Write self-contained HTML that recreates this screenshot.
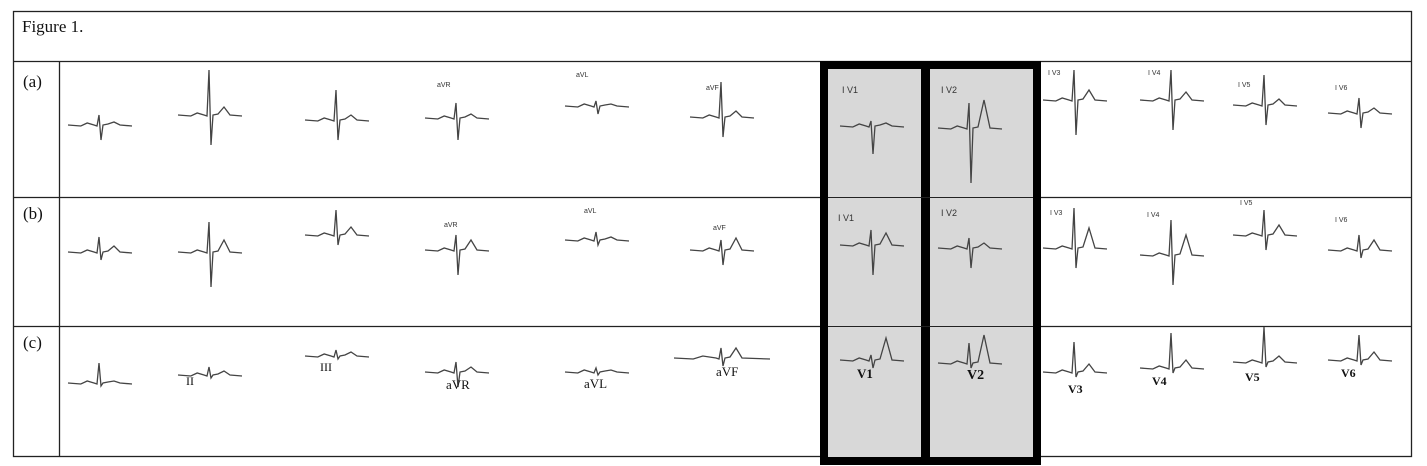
<!DOCTYPE html>
<html><head><meta charset="utf-8"><style>
body{margin:0;background:#fff;width:1427px;height:466px;overflow:hidden;position:relative;font-family:"Liberation Serif",serif}
.t{position:absolute;font-size:17px;color:#111}
.s{position:absolute;font-size:7px;font-family:"Liberation Sans",sans-serif;color:#333}
</style></head><body>
<svg width="1427" height="466" style="position:absolute;left:0;top:0">
<rect x="13.5" y="11.5" width="1398" height="445" fill="none" stroke="#222" stroke-width="1.3"/>
<line x1="13" y1="61.5" x2="1412" y2="61.5" stroke="#222" stroke-width="1.3"/>
<line x1="13" y1="197.5" x2="1412" y2="197.5" stroke="#222" stroke-width="1.3"/>
<line x1="13" y1="326.5" x2="1412" y2="326.5" stroke="#222" stroke-width="1.3"/>
<line x1="59.5" y1="61" x2="59.5" y2="457" stroke="#222" stroke-width="1.3"/>
<rect x="820" y="61" width="221" height="404" fill="#000"/>
<rect x="828" y="69" width="93" height="388" fill="#d8d8d8"/>
<rect x="930" y="69" width="103" height="388" fill="#d8d8d8"/>
<line x1="828" y1="197.5" x2="1033" y2="197.5" stroke="#222" stroke-width="1"/>
<line x1="828" y1="326.5" x2="1033" y2="326.5" stroke="#222" stroke-width="1"/>
<g id="w" fill="none" stroke="#444" stroke-width="1.3"></g>
</svg>
<div class="t" style="left:22px;top:17px">Figure 1.</div>
<div class="t" style="left:23px;top:72px">(a)</div>
<div class="t" style="left:23px;top:204px">(b)</div>
<div class="t" style="left:23px;top:333px">(c)</div>
<div class="s" style="left:842px;top:85px;font-size:9px">I V1</div>
<div class="s" style="left:941px;top:85px;font-size:9px">I V2</div>
<div class="s" style="left:1048px;top:70px">I V3</div>
<div class="s" style="left:1148px;top:70px">I V4</div>
<div class="s" style="left:1238px;top:82px">I V5</div>
<div class="s" style="left:1335px;top:85px">I V6</div>
<div class="s" style="left:437px;top:82px">aVR</div>
<div class="s" style="left:576px;top:72px">aVL</div>
<div class="s" style="left:706px;top:85px">aVF</div>
<div class="s" style="left:838px;top:213px;font-size:9px">I V1</div>
<div class="s" style="left:941px;top:208px;font-size:9px">I V2</div>
<div class="s" style="left:1050px;top:210px">I V3</div>
<div class="s" style="left:1147px;top:212px">I V4</div>
<div class="s" style="left:1240px;top:200px">I V5</div>
<div class="s" style="left:1335px;top:217px">I V6</div>
<div class="s" style="left:444px;top:222px">aVR</div>
<div class="s" style="left:584px;top:208px">aVL</div>
<div class="s" style="left:713px;top:225px">aVF</div>
<div class="t" style="left:186px;top:374px;font-size:12px">II</div>
<div class="t" style="left:320px;top:360px;font-size:12px">III</div>
<div class="t" style="left:446px;top:377px;font-size:13px">aVR</div>
<div class="t" style="left:584px;top:376px;font-size:13px">aVL</div>
<div class="t" style="left:716px;top:364px;font-size:13px">aVF</div>
<div class="t" style="left:857px;top:366px;font-size:13px;font-weight:bold">V1</div>
<div class="t" style="left:967px;top:368px;font-size:14px;font-weight:bold">V2</div>
<div class="t" style="left:1068px;top:382px;font-size:12px;font-weight:bold">V3</div>
<div class="t" style="left:1152px;top:374px;font-size:12px;font-weight:bold">V4</div>
<div class="t" style="left:1245px;top:370px;font-size:12px;font-weight:bold">V5</div>
<div class="t" style="left:1341px;top:366px;font-size:12px;font-weight:bold">V6</div>
<script>
var g=document.getElementById('w'),ns='http://www.w3.org/2000/svg';
function ecg(cx,by,r,s,t,w){w=w||32;var x0=cx-w,p='M'+x0+' '+by;
var pts=[[-w,0],[-w*0.6,1],[-w*0.4,-2],[-6,0],[-3,1],[-1,-r],[1,s],[3,0],[8,-1],[14,-t],[20,0],[w,1]];
p='M'+pts.map(function(q){return (cx+q[0])+' '+(by+q[1])}).join(' L');
var e=document.createElementNS(ns,'path');e.setAttribute('d',p);g.appendChild(e);}
var cols=[100,210,337,457,597,722,872,970,1075,1172,1265,1360];
var A=[[125,10,15,3],[115,45,30,8],[120,30,20,5],[118,15,22,4],[106,5,8,2],[117,35,20,6],[126,5,28,3],[128,25,55,28],[100,30,35,10],[100,30,30,8],[105,30,20,6],[113,15,15,5]];
var B=[[252,15,8,6],[252,30,35,12],[235,25,10,8],[250,15,25,10],[240,8,5,3],[250,10,15,12],[245,15,30,12],[248,10,20,5],[248,40,20,20],[255,35,30,20],[235,25,15,10],[250,15,8,10]];
var C=[[383,20,3,2],[375,8,3,4],[356,6,3,4],[372,10,15,5],[372,4,3,2],[358,10,8,10],[360,5,8,22],[363,20,5,28],[372,30,5,8],[368,35,5,8],[362,35,5,6],[360,25,5,8]];
[A,B,C].forEach(function(R){R.forEach(function(d,i){ecg(cols[i],d[0],d[1],d[2],d[3],i==5&&R==C?48:32);});});
</script>
</body></html>
